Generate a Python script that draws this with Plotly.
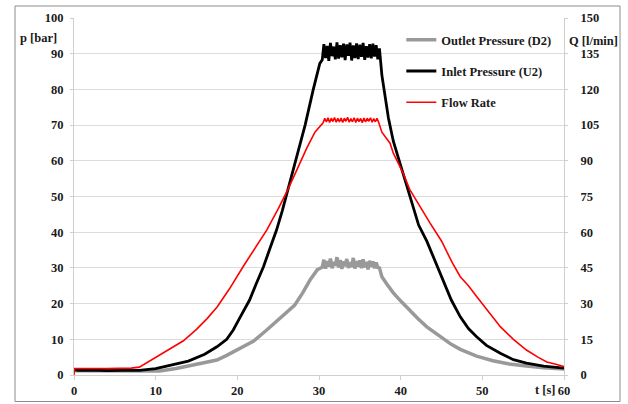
import plotly.graph_objects as go

# ---------------- data ----------------
# Inlet Pressure (U2) [bar]
t_inlet = [0, 0.5, 2, 4, 6, 8, 10, 12, 14, 16, 17.5, 18.7, 19.5, 20.3, 21.5, 22.3, 23.2, 24.0, 24.8, 25.5,
           26.2, 27.4, 28.3, 29.3, 30.1,
           30.4, 30.6, 30.8, 31.0, 31.2, 31.4, 31.6, 31.8, 32.0, 32.2, 32.4, 32.6, 32.8, 33.0, 33.2, 33.4,
           33.6, 33.8, 34.0, 34.2, 34.4, 34.6, 34.8, 35.0, 35.2, 35.4, 35.6, 35.8, 36.0, 36.2, 36.4, 36.6,
           36.8, 37.0, 37.2, 37.4,
           37.7, 38.1, 38.5, 39.1, 39.7, 40.3, 40.9, 41.5, 42.2, 43.2, 44.2, 45.2, 46.2, 47.3, 48.3, 49.3,
           50.5, 52.2, 53.8, 55.4, 57.5, 60]
p_inlet = [1.5, 1.3, 1.4, 1.2, 1.3, 1.3, 1.8, 2.8, 3.9, 5.8, 7.9, 10, 12.6, 16, 21, 25.5, 30.3, 35.5, 40.6, 46,
           52, 61.5, 70, 80, 87.3,
           88.3, 92.7, 88.8, 92.2, 88.0, 93.0, 89.3, 92.0, 88.4, 93.2, 88.6, 92.4, 89.0, 92.8, 88.2, 92.6,
           89.4, 93.1, 88.1, 92.3, 88.8, 92.9, 88.5, 92.5, 89.1, 93.0, 88.3, 92.1, 88.9, 92.7, 88.7, 92.8,
           89.2, 92.4, 88.4, 91.5,
           84, 78, 72, 65.5, 61, 56.5, 51.5, 47.5, 42, 37.5, 32, 26.6, 21, 16.3, 13, 10.7,
           8.3, 6.1, 4.3, 3.3, 2.5, 1.9]

# Outlet Pressure (D2) [bar]
t_outlet = [0, 2, 4, 6, 8, 10.5, 12.5, 14.6, 16, 17.5, 18.7, 19.9, 21, 22, 23.6, 25, 27, 28, 28.9, 29.8,
            30.4, 30.6, 30.8, 31.0, 31.2, 31.4, 31.6, 31.8, 32.0, 32.2, 32.4, 32.6, 32.8, 33.0, 33.2, 33.4,
            33.6, 33.8, 34.0, 34.2, 34.4, 34.6, 34.8, 35.0, 35.2, 35.4, 35.6, 35.8, 36.0, 36.2, 36.4, 36.6,
            36.8, 37.0, 37.2,
            37.4, 37.7, 38.3, 39.1, 40.1, 41.1, 42.1, 43.2, 44.2, 45.2, 46.2, 47.3, 48.3, 49.3, 51.3, 53.3,
            55.4, 57.5, 60]
p_outlet = [1.2, 1.2, 1.1, 1.2, 1.2, 1.1, 1.8, 2.8, 3.5, 4.2, 5.5, 7.0, 8.3, 9.5, 12.6, 15.5, 19.5, 23, 26.6, 29.5,
            30.2, 32.3, 29.8, 31.9, 30.4, 32.6, 29.9, 31.7, 30.6, 33.0, 30.1, 32.2, 29.7, 31.8, 30.5, 32.5,
            30.0, 31.6, 30.3, 32.8, 29.8, 31.9, 30.4, 32.1, 29.9, 32.4, 30.2, 31.7, 29.6, 32.0, 30.3, 31.8,
            29.9, 31.5, 30.1,
            30.0, 27.5, 25.5, 23, 20.5, 18, 15.8, 13.5, 11.8, 10.2, 8.6, 7.2, 6.2, 5.3, 4.0, 3.1,
            2.5, 2.0, 1.7]

# Flow Rate [l/min]
t_flow = [0, 0.05, 4, 7, 8, 9, 10.5, 12, 13.4, 15, 16.3, 17.5, 19, 20.7, 22.2, 23.6, 25, 26.2, 27.4, 28.5, 29.5,
          30.5, 30.7, 30.9, 31.1, 31.3, 31.5, 31.7, 31.9, 32.1, 32.3, 32.5, 32.7, 32.9, 33.1, 33.3, 33.5,
          33.7, 33.9, 34.1, 34.3, 34.5, 34.7, 34.9, 35.1, 35.3, 35.5, 35.7, 35.9, 36.1, 36.3, 36.5, 36.7,
          36.9, 37.1, 37.3,
          37.7, 38.7, 39.1, 40.3, 41.1, 42.4, 43.6, 45, 46.3, 47.3, 48.3, 49.3, 50.7, 52.2, 53.8, 55.4,
          56.8, 57.9, 59, 60]
q_flow = [0, 2.7, 2.7, 2.9, 3.3, 5.4, 8.4, 11.4, 14.4, 19.2, 23.7, 28.5, 36, 45.5, 53.3, 60.9, 69.8, 78, 87, 95.3, 102,
          106.0, 107.9, 106.3, 108.1, 106.1, 107.9, 106.5, 108.2, 106.2, 107.8, 106.3, 108.0, 106.1, 107.9, 106.6, 108.3,
          106.2, 107.7, 106.4, 108.1, 106.1, 107.9, 106.5, 107.8, 106.0, 108.0, 106.3, 107.9, 106.6, 108.1, 106.2, 107.7,
          106.4, 107.8, 106.2,
          102, 97.4, 93.2, 84.8, 78, 70.5, 63.8, 56.3, 47.3, 41.3, 37.5, 33, 26.7, 20.3, 15, 10.5,
          7.5, 5.5, 4.5, 3.5]

series_names = ["Outlet Pressure (D2)", "Inlet Pressure (U2)", "Flow Rate"]
x_ticks = [0, 10, 20, 30, 40, 50, 60]
p_ticks = [0, 10, 20, 30, 40, 50, 60, 70, 80, 90, 100]
q_ticks = [0, 15, 30, 45, 60, 75, 90, 105, 120, 135, 150]

assert len(t_inlet) == len(p_inlet)
assert len(t_outlet) == len(p_outlet)
assert len(t_flow) == len(q_flow)

# ---------------- figure ----------------
FONT = dict(family="Liberation Serif", size=12.5, color="#1a1a1a", weight="bold")
AX = "#cfcfcf"

fig = go.Figure()
fig.add_trace(go.Scatter(x=t_outlet, y=p_outlet, mode="lines", name=series_names[0],
                         line=dict(color="#999999", width=3.5), legendgroup="a"))
fig.add_trace(go.Scatter(x=t_inlet, y=p_inlet, mode="lines", name=series_names[1],
                         line=dict(color="#000000", width=2.8), legendgroup="b"))
fig.add_trace(go.Scatter(x=t_flow, y=q_flow, mode="lines", name=series_names[2], yaxis="y2",
                         line=dict(color="#ff0000", width=1.6), legendgroup="c"))

fig.update_layout(
    width=628, height=404, autosize=False,
    margin=dict(l=74, r=64, t=18, b=29, pad=0, autoexpand=False),
    paper_bgcolor="white", plot_bgcolor="white",
    font=FONT,
    showlegend=True,
    legend=dict(x=0.668, y=0.98, xanchor="left", yanchor="top", bgcolor="rgba(0,0,0,0)",
                font=FONT, tracegroupgap=12, traceorder="grouped"),
    xaxis=dict(range=[0, 60], tickvals=x_ticks, showgrid=False, zeroline=False, automargin=False,
               showline=True, linecolor=AX, linewidth=1, ticks="outside", ticklen=4, tickcolor=AX,
               tickfont=FONT),
    yaxis=dict(range=[0, 100], tickvals=p_ticks, showgrid=True, gridcolor="#dcdcdc", zeroline=False,
               automargin=False, ticklabelstandoff=4,
               showline=True, linecolor=AX, linewidth=1, ticks="outside", ticklen=3, tickcolor=AX,
               tickfont=FONT),
    yaxis2=dict(range=[0, 150], tickvals=q_ticks, overlaying="y", side="right", showgrid=False,
                automargin=False, ticklabelstandoff=10,
                zeroline=False, showline=True, linecolor=AX, linewidth=1, ticks="outside", ticklen=3,
                tickcolor=AX, tickfont=FONT),
    shapes=[dict(type="rect", xref="paper", yref="paper",
                 x0=(15 - 74) / 490, x1=(620 - 74) / 490,
                 y0=(375 - 401.5) / 357, y1=(375 - 6) / 357,
                 line=dict(color="#8c8c8c", width=1), fillcolor="rgba(0,0,0,0)", layer="below")],
    annotations=[
        dict(text="p [bar]", xref="paper", yref="paper", x=(18 - 74) / 490, y=(375 - 38) / 357,
             xanchor="left", yanchor="middle", showarrow=False, font=FONT),
        dict(text="Q [l/min]", xref="paper", yref="paper", x=(567 - 74) / 490, y=(375 - 41) / 357,
             xanchor="left", yanchor="middle", showarrow=False, font=FONT),
        dict(text="t [s]", xref="paper", yref="paper", x=(557 - 74) / 490, y=(375 - 390) / 357,
             xanchor="right", yanchor="middle", showarrow=False, font=FONT),
    ],
)

fig.write_html("out.html")
